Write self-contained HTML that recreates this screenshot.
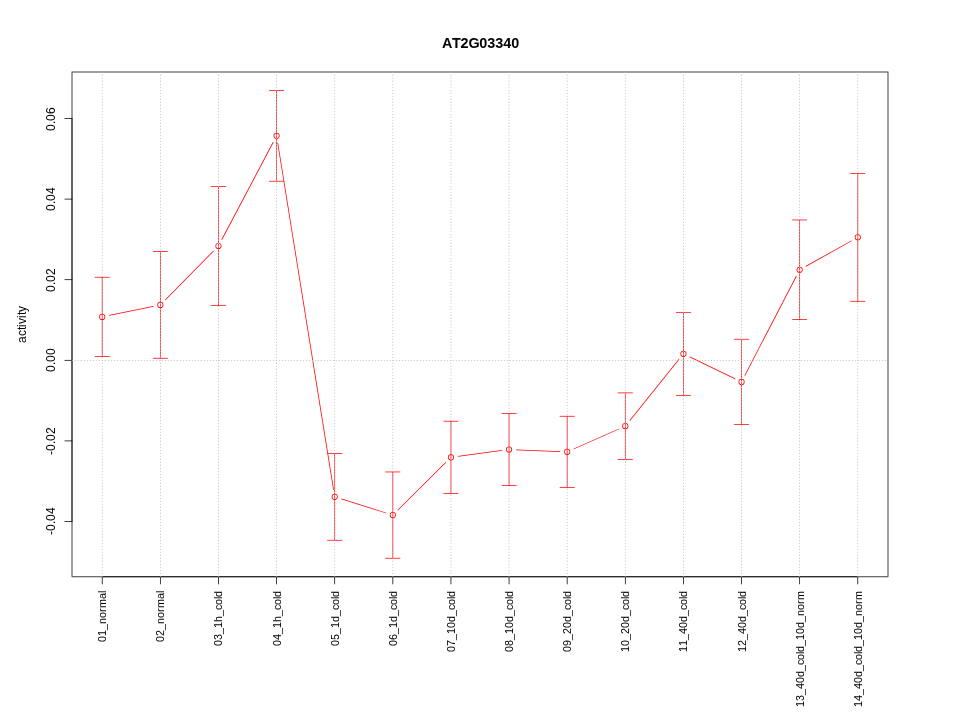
<!DOCTYPE html>
<html><head><meta charset="utf-8"><title>AT2G03340</title>
<style>
html,body{margin:0;padding:0;background:#fff;}
body{width:960px;height:720px;overflow:hidden;}
svg{display:block;will-change:transform;}
text{font-family:"Liberation Sans",sans-serif;fill:#000;}
</style></head><body>
<svg width="960" height="720" viewBox="0 0 960 720">
<defs>
<path id="vg" d="M-0.375 71.705h0.75v1.34h-0.75zM-0.375 74.705h0.75v1.34h-0.75zM-0.375 77.705h0.75v1.34h-0.75zM-0.375 80.705h0.75v1.34h-0.75zM-0.375 83.705h0.75v1.34h-0.75zM-0.375 86.705h0.75v1.34h-0.75zM-0.375 89.705h0.75v1.34h-0.75zM-0.375 92.705h0.75v1.34h-0.75zM-0.375 95.705h0.75v1.34h-0.75zM-0.375 98.705h0.75v1.34h-0.75zM-0.375 101.705h0.75v1.34h-0.75zM-0.375 104.705h0.75v1.34h-0.75zM-0.375 107.705h0.75v1.34h-0.75zM-0.375 110.705h0.75v1.34h-0.75zM-0.375 113.705h0.75v1.34h-0.75zM-0.375 116.705h0.75v1.34h-0.75zM-0.375 119.705h0.75v1.34h-0.75zM-0.375 122.705h0.75v1.34h-0.75zM-0.375 125.705h0.75v1.34h-0.75zM-0.375 128.705h0.75v1.34h-0.75zM-0.375 131.705h0.75v1.34h-0.75zM-0.375 134.705h0.75v1.34h-0.75zM-0.375 137.705h0.75v1.34h-0.75zM-0.375 140.705h0.75v1.34h-0.75zM-0.375 143.705h0.75v1.34h-0.75zM-0.375 146.705h0.75v1.34h-0.75zM-0.375 149.705h0.75v1.34h-0.75zM-0.375 152.705h0.75v1.34h-0.75zM-0.375 155.705h0.75v1.34h-0.75zM-0.375 158.705h0.75v1.34h-0.75zM-0.375 161.705h0.75v1.34h-0.75zM-0.375 164.705h0.75v1.34h-0.75zM-0.375 167.705h0.75v1.34h-0.75zM-0.375 170.705h0.75v1.34h-0.75zM-0.375 173.705h0.75v1.34h-0.75zM-0.375 176.705h0.75v1.34h-0.75zM-0.375 179.705h0.75v1.34h-0.75zM-0.375 182.705h0.75v1.34h-0.75zM-0.375 185.705h0.75v1.34h-0.75zM-0.375 188.705h0.75v1.34h-0.75zM-0.375 191.705h0.75v1.34h-0.75zM-0.375 194.705h0.75v1.34h-0.75zM-0.375 197.705h0.75v1.34h-0.75zM-0.375 200.705h0.75v1.34h-0.75zM-0.375 203.705h0.75v1.34h-0.75zM-0.375 206.705h0.75v1.34h-0.75zM-0.375 209.705h0.75v1.34h-0.75zM-0.375 212.705h0.75v1.34h-0.75zM-0.375 215.705h0.75v1.34h-0.75zM-0.375 218.705h0.75v1.34h-0.75zM-0.375 221.705h0.75v1.34h-0.75zM-0.375 224.705h0.75v1.34h-0.75zM-0.375 227.705h0.75v1.34h-0.75zM-0.375 230.705h0.75v1.34h-0.75zM-0.375 233.705h0.75v1.34h-0.75zM-0.375 236.705h0.75v1.34h-0.75zM-0.375 239.705h0.75v1.34h-0.75zM-0.375 242.705h0.75v1.34h-0.75zM-0.375 245.705h0.75v1.34h-0.75zM-0.375 248.705h0.75v1.34h-0.75zM-0.375 251.705h0.75v1.34h-0.75zM-0.375 254.705h0.75v1.34h-0.75zM-0.375 257.705h0.75v1.34h-0.75zM-0.375 260.705h0.75v1.34h-0.75zM-0.375 263.705h0.75v1.34h-0.75zM-0.375 266.705h0.75v1.34h-0.75zM-0.375 269.705h0.75v1.34h-0.75zM-0.375 272.705h0.75v1.34h-0.75zM-0.375 275.705h0.75v1.34h-0.75zM-0.375 278.705h0.75v1.34h-0.75zM-0.375 281.705h0.75v1.34h-0.75zM-0.375 284.705h0.75v1.34h-0.75zM-0.375 287.705h0.75v1.34h-0.75zM-0.375 290.705h0.75v1.34h-0.75zM-0.375 293.705h0.75v1.34h-0.75zM-0.375 296.705h0.75v1.34h-0.75zM-0.375 299.705h0.75v1.34h-0.75zM-0.375 302.705h0.75v1.34h-0.75zM-0.375 305.705h0.75v1.34h-0.75zM-0.375 308.705h0.75v1.34h-0.75zM-0.375 311.705h0.75v1.34h-0.75zM-0.375 314.705h0.75v1.34h-0.75zM-0.375 317.705h0.75v1.34h-0.75zM-0.375 320.705h0.75v1.34h-0.75zM-0.375 323.705h0.75v1.34h-0.75zM-0.375 326.705h0.75v1.34h-0.75zM-0.375 329.705h0.75v1.34h-0.75zM-0.375 332.705h0.75v1.34h-0.75zM-0.375 335.705h0.75v1.34h-0.75zM-0.375 338.705h0.75v1.34h-0.75zM-0.375 341.705h0.75v1.34h-0.75zM-0.375 344.705h0.75v1.34h-0.75zM-0.375 347.705h0.75v1.34h-0.75zM-0.375 350.705h0.75v1.34h-0.75zM-0.375 353.705h0.75v1.34h-0.75zM-0.375 356.705h0.75v1.34h-0.75zM-0.375 359.705h0.75v1.34h-0.75zM-0.375 362.705h0.75v1.34h-0.75zM-0.375 365.705h0.75v1.34h-0.75zM-0.375 368.705h0.75v1.34h-0.75zM-0.375 371.705h0.75v1.34h-0.75zM-0.375 374.705h0.75v1.34h-0.75zM-0.375 377.705h0.75v1.34h-0.75zM-0.375 380.705h0.75v1.34h-0.75zM-0.375 383.705h0.75v1.34h-0.75zM-0.375 386.705h0.75v1.34h-0.75zM-0.375 389.705h0.75v1.34h-0.75zM-0.375 392.705h0.75v1.34h-0.75zM-0.375 395.705h0.75v1.34h-0.75zM-0.375 398.705h0.75v1.34h-0.75zM-0.375 401.705h0.75v1.34h-0.75zM-0.375 404.705h0.75v1.34h-0.75zM-0.375 407.705h0.75v1.34h-0.75zM-0.375 410.705h0.75v1.34h-0.75zM-0.375 413.705h0.75v1.34h-0.75zM-0.375 416.705h0.75v1.34h-0.75zM-0.375 419.705h0.75v1.34h-0.75zM-0.375 422.705h0.75v1.34h-0.75zM-0.375 425.705h0.75v1.34h-0.75zM-0.375 428.705h0.75v1.34h-0.75zM-0.375 431.705h0.75v1.34h-0.75zM-0.375 434.705h0.75v1.34h-0.75zM-0.375 437.705h0.75v1.34h-0.75zM-0.375 440.705h0.75v1.34h-0.75zM-0.375 443.705h0.75v1.34h-0.75zM-0.375 446.705h0.75v1.34h-0.75zM-0.375 449.705h0.75v1.34h-0.75zM-0.375 452.705h0.75v1.34h-0.75zM-0.375 455.705h0.75v1.34h-0.75zM-0.375 458.705h0.75v1.34h-0.75zM-0.375 461.705h0.75v1.34h-0.75zM-0.375 464.705h0.75v1.34h-0.75zM-0.375 467.705h0.75v1.34h-0.75zM-0.375 470.705h0.75v1.34h-0.75zM-0.375 473.705h0.75v1.34h-0.75zM-0.375 476.705h0.75v1.34h-0.75zM-0.375 479.705h0.75v1.34h-0.75zM-0.375 482.705h0.75v1.34h-0.75zM-0.375 485.705h0.75v1.34h-0.75zM-0.375 488.705h0.75v1.34h-0.75zM-0.375 491.705h0.75v1.34h-0.75zM-0.375 494.705h0.75v1.34h-0.75zM-0.375 497.705h0.75v1.34h-0.75zM-0.375 500.705h0.75v1.34h-0.75zM-0.375 503.705h0.75v1.34h-0.75zM-0.375 506.705h0.75v1.34h-0.75zM-0.375 509.705h0.75v1.34h-0.75zM-0.375 512.705h0.75v1.34h-0.75zM-0.375 515.705h0.75v1.34h-0.75zM-0.375 518.705h0.75v1.34h-0.75zM-0.375 521.705h0.75v1.34h-0.75zM-0.375 524.705h0.75v1.34h-0.75zM-0.375 527.705h0.75v1.34h-0.75zM-0.375 530.705h0.75v1.34h-0.75zM-0.375 533.705h0.75v1.34h-0.75zM-0.375 536.705h0.75v1.34h-0.75zM-0.375 539.705h0.75v1.34h-0.75zM-0.375 542.705h0.75v1.34h-0.75zM-0.375 545.705h0.75v1.34h-0.75zM-0.375 548.705h0.75v1.34h-0.75zM-0.375 551.705h0.75v1.34h-0.75zM-0.375 554.705h0.75v1.34h-0.75zM-0.375 557.705h0.75v1.34h-0.75zM-0.375 560.705h0.75v1.34h-0.75zM-0.375 563.705h0.75v1.34h-0.75zM-0.375 566.705h0.75v1.34h-0.75zM-0.375 569.705h0.75v1.34h-0.75zM-0.375 572.705h0.75v1.34h-0.75zM-0.375 575.705h0.75v1.34h-0.75z"/>
<path id="hg" d="M71.705 -0.375h1.34v0.75h-1.34zM74.705 -0.375h1.34v0.75h-1.34zM77.705 -0.375h1.34v0.75h-1.34zM80.705 -0.375h1.34v0.75h-1.34zM83.705 -0.375h1.34v0.75h-1.34zM86.705 -0.375h1.34v0.75h-1.34zM89.705 -0.375h1.34v0.75h-1.34zM92.705 -0.375h1.34v0.75h-1.34zM95.705 -0.375h1.34v0.75h-1.34zM98.705 -0.375h1.34v0.75h-1.34zM101.705 -0.375h1.34v0.75h-1.34zM104.705 -0.375h1.34v0.75h-1.34zM107.705 -0.375h1.34v0.75h-1.34zM110.705 -0.375h1.34v0.75h-1.34zM113.705 -0.375h1.34v0.75h-1.34zM116.705 -0.375h1.34v0.75h-1.34zM119.705 -0.375h1.34v0.75h-1.34zM122.705 -0.375h1.34v0.75h-1.34zM125.705 -0.375h1.34v0.75h-1.34zM128.705 -0.375h1.34v0.75h-1.34zM131.705 -0.375h1.34v0.75h-1.34zM134.705 -0.375h1.34v0.75h-1.34zM137.705 -0.375h1.34v0.75h-1.34zM140.705 -0.375h1.34v0.75h-1.34zM143.705 -0.375h1.34v0.75h-1.34zM146.705 -0.375h1.34v0.75h-1.34zM149.705 -0.375h1.34v0.75h-1.34zM152.705 -0.375h1.34v0.75h-1.34zM155.705 -0.375h1.34v0.75h-1.34zM158.705 -0.375h1.34v0.75h-1.34zM161.705 -0.375h1.34v0.75h-1.34zM164.705 -0.375h1.34v0.75h-1.34zM167.705 -0.375h1.34v0.75h-1.34zM170.705 -0.375h1.34v0.75h-1.34zM173.705 -0.375h1.34v0.75h-1.34zM176.705 -0.375h1.34v0.75h-1.34zM179.705 -0.375h1.34v0.75h-1.34zM182.705 -0.375h1.34v0.75h-1.34zM185.705 -0.375h1.34v0.75h-1.34zM188.705 -0.375h1.34v0.75h-1.34zM191.705 -0.375h1.34v0.75h-1.34zM194.705 -0.375h1.34v0.75h-1.34zM197.705 -0.375h1.34v0.75h-1.34zM200.705 -0.375h1.34v0.75h-1.34zM203.705 -0.375h1.34v0.75h-1.34zM206.705 -0.375h1.34v0.75h-1.34zM209.705 -0.375h1.34v0.75h-1.34zM212.705 -0.375h1.34v0.75h-1.34zM215.705 -0.375h1.34v0.75h-1.34zM218.705 -0.375h1.34v0.75h-1.34zM221.705 -0.375h1.34v0.75h-1.34zM224.705 -0.375h1.34v0.75h-1.34zM227.705 -0.375h1.34v0.75h-1.34zM230.705 -0.375h1.34v0.75h-1.34zM233.705 -0.375h1.34v0.75h-1.34zM236.705 -0.375h1.34v0.75h-1.34zM239.705 -0.375h1.34v0.75h-1.34zM242.705 -0.375h1.34v0.75h-1.34zM245.705 -0.375h1.34v0.75h-1.34zM248.705 -0.375h1.34v0.75h-1.34zM251.705 -0.375h1.34v0.75h-1.34zM254.705 -0.375h1.34v0.75h-1.34zM257.705 -0.375h1.34v0.75h-1.34zM260.705 -0.375h1.34v0.75h-1.34zM263.705 -0.375h1.34v0.75h-1.34zM266.705 -0.375h1.34v0.75h-1.34zM269.705 -0.375h1.34v0.75h-1.34zM272.705 -0.375h1.34v0.75h-1.34zM275.705 -0.375h1.34v0.75h-1.34zM278.705 -0.375h1.34v0.75h-1.34zM281.705 -0.375h1.34v0.75h-1.34zM284.705 -0.375h1.34v0.75h-1.34zM287.705 -0.375h1.34v0.75h-1.34zM290.705 -0.375h1.34v0.75h-1.34zM293.705 -0.375h1.34v0.75h-1.34zM296.705 -0.375h1.34v0.75h-1.34zM299.705 -0.375h1.34v0.75h-1.34zM302.705 -0.375h1.34v0.75h-1.34zM305.705 -0.375h1.34v0.75h-1.34zM308.705 -0.375h1.34v0.75h-1.34zM311.705 -0.375h1.34v0.75h-1.34zM314.705 -0.375h1.34v0.75h-1.34zM317.705 -0.375h1.34v0.75h-1.34zM320.705 -0.375h1.34v0.75h-1.34zM323.705 -0.375h1.34v0.75h-1.34zM326.705 -0.375h1.34v0.75h-1.34zM329.705 -0.375h1.34v0.75h-1.34zM332.705 -0.375h1.34v0.75h-1.34zM335.705 -0.375h1.34v0.75h-1.34zM338.705 -0.375h1.34v0.75h-1.34zM341.705 -0.375h1.34v0.75h-1.34zM344.705 -0.375h1.34v0.75h-1.34zM347.705 -0.375h1.34v0.75h-1.34zM350.705 -0.375h1.34v0.75h-1.34zM353.705 -0.375h1.34v0.75h-1.34zM356.705 -0.375h1.34v0.75h-1.34zM359.705 -0.375h1.34v0.75h-1.34zM362.705 -0.375h1.34v0.75h-1.34zM365.705 -0.375h1.34v0.75h-1.34zM368.705 -0.375h1.34v0.75h-1.34zM371.705 -0.375h1.34v0.75h-1.34zM374.705 -0.375h1.34v0.75h-1.34zM377.705 -0.375h1.34v0.75h-1.34zM380.705 -0.375h1.34v0.75h-1.34zM383.705 -0.375h1.34v0.75h-1.34zM386.705 -0.375h1.34v0.75h-1.34zM389.705 -0.375h1.34v0.75h-1.34zM392.705 -0.375h1.34v0.75h-1.34zM395.705 -0.375h1.34v0.75h-1.34zM398.705 -0.375h1.34v0.75h-1.34zM401.705 -0.375h1.34v0.75h-1.34zM404.705 -0.375h1.34v0.75h-1.34zM407.705 -0.375h1.34v0.75h-1.34zM410.705 -0.375h1.34v0.75h-1.34zM413.705 -0.375h1.34v0.75h-1.34zM416.705 -0.375h1.34v0.75h-1.34zM419.705 -0.375h1.34v0.75h-1.34zM422.705 -0.375h1.34v0.75h-1.34zM425.705 -0.375h1.34v0.75h-1.34zM428.705 -0.375h1.34v0.75h-1.34zM431.705 -0.375h1.34v0.75h-1.34zM434.705 -0.375h1.34v0.75h-1.34zM437.705 -0.375h1.34v0.75h-1.34zM440.705 -0.375h1.34v0.75h-1.34zM443.705 -0.375h1.34v0.75h-1.34zM446.705 -0.375h1.34v0.75h-1.34zM449.705 -0.375h1.34v0.75h-1.34zM452.705 -0.375h1.34v0.75h-1.34zM455.705 -0.375h1.34v0.75h-1.34zM458.705 -0.375h1.34v0.75h-1.34zM461.705 -0.375h1.34v0.75h-1.34zM464.705 -0.375h1.34v0.75h-1.34zM467.705 -0.375h1.34v0.75h-1.34zM470.705 -0.375h1.34v0.75h-1.34zM473.705 -0.375h1.34v0.75h-1.34zM476.705 -0.375h1.34v0.75h-1.34zM479.705 -0.375h1.34v0.75h-1.34zM482.705 -0.375h1.34v0.75h-1.34zM485.705 -0.375h1.34v0.75h-1.34zM488.705 -0.375h1.34v0.75h-1.34zM491.705 -0.375h1.34v0.75h-1.34zM494.705 -0.375h1.34v0.75h-1.34zM497.705 -0.375h1.34v0.75h-1.34zM500.705 -0.375h1.34v0.75h-1.34zM503.705 -0.375h1.34v0.75h-1.34zM506.705 -0.375h1.34v0.75h-1.34zM509.705 -0.375h1.34v0.75h-1.34zM512.705 -0.375h1.34v0.75h-1.34zM515.705 -0.375h1.34v0.75h-1.34zM518.705 -0.375h1.34v0.75h-1.34zM521.705 -0.375h1.34v0.75h-1.34zM524.705 -0.375h1.34v0.75h-1.34zM527.705 -0.375h1.34v0.75h-1.34zM530.705 -0.375h1.34v0.75h-1.34zM533.705 -0.375h1.34v0.75h-1.34zM536.705 -0.375h1.34v0.75h-1.34zM539.705 -0.375h1.34v0.75h-1.34zM542.705 -0.375h1.34v0.75h-1.34zM545.705 -0.375h1.34v0.75h-1.34zM548.705 -0.375h1.34v0.75h-1.34zM551.705 -0.375h1.34v0.75h-1.34zM554.705 -0.375h1.34v0.75h-1.34zM557.705 -0.375h1.34v0.75h-1.34zM560.705 -0.375h1.34v0.75h-1.34zM563.705 -0.375h1.34v0.75h-1.34zM566.705 -0.375h1.34v0.75h-1.34zM569.705 -0.375h1.34v0.75h-1.34zM572.705 -0.375h1.34v0.75h-1.34zM575.705 -0.375h1.34v0.75h-1.34zM578.705 -0.375h1.34v0.75h-1.34zM581.705 -0.375h1.34v0.75h-1.34zM584.705 -0.375h1.34v0.75h-1.34zM587.705 -0.375h1.34v0.75h-1.34zM590.705 -0.375h1.34v0.75h-1.34zM593.705 -0.375h1.34v0.75h-1.34zM596.705 -0.375h1.34v0.75h-1.34zM599.705 -0.375h1.34v0.75h-1.34zM602.705 -0.375h1.34v0.75h-1.34zM605.705 -0.375h1.34v0.75h-1.34zM608.705 -0.375h1.34v0.75h-1.34zM611.705 -0.375h1.34v0.75h-1.34zM614.705 -0.375h1.34v0.75h-1.34zM617.705 -0.375h1.34v0.75h-1.34zM620.705 -0.375h1.34v0.75h-1.34zM623.705 -0.375h1.34v0.75h-1.34zM626.705 -0.375h1.34v0.75h-1.34zM629.705 -0.375h1.34v0.75h-1.34zM632.705 -0.375h1.34v0.75h-1.34zM635.705 -0.375h1.34v0.75h-1.34zM638.705 -0.375h1.34v0.75h-1.34zM641.705 -0.375h1.34v0.75h-1.34zM644.705 -0.375h1.34v0.75h-1.34zM647.705 -0.375h1.34v0.75h-1.34zM650.705 -0.375h1.34v0.75h-1.34zM653.705 -0.375h1.34v0.75h-1.34zM656.705 -0.375h1.34v0.75h-1.34zM659.705 -0.375h1.34v0.75h-1.34zM662.705 -0.375h1.34v0.75h-1.34zM665.705 -0.375h1.34v0.75h-1.34zM668.705 -0.375h1.34v0.75h-1.34zM671.705 -0.375h1.34v0.75h-1.34zM674.705 -0.375h1.34v0.75h-1.34zM677.705 -0.375h1.34v0.75h-1.34zM680.705 -0.375h1.34v0.75h-1.34zM683.705 -0.375h1.34v0.75h-1.34zM686.705 -0.375h1.34v0.75h-1.34zM689.705 -0.375h1.34v0.75h-1.34zM692.705 -0.375h1.34v0.75h-1.34zM695.705 -0.375h1.34v0.75h-1.34zM698.705 -0.375h1.34v0.75h-1.34zM701.705 -0.375h1.34v0.75h-1.34zM704.705 -0.375h1.34v0.75h-1.34zM707.705 -0.375h1.34v0.75h-1.34zM710.705 -0.375h1.34v0.75h-1.34zM713.705 -0.375h1.34v0.75h-1.34zM716.705 -0.375h1.34v0.75h-1.34zM719.705 -0.375h1.34v0.75h-1.34zM722.705 -0.375h1.34v0.75h-1.34zM725.705 -0.375h1.34v0.75h-1.34zM728.705 -0.375h1.34v0.75h-1.34zM731.705 -0.375h1.34v0.75h-1.34zM734.705 -0.375h1.34v0.75h-1.34zM737.705 -0.375h1.34v0.75h-1.34zM740.705 -0.375h1.34v0.75h-1.34zM743.705 -0.375h1.34v0.75h-1.34zM746.705 -0.375h1.34v0.75h-1.34zM749.705 -0.375h1.34v0.75h-1.34zM752.705 -0.375h1.34v0.75h-1.34zM755.705 -0.375h1.34v0.75h-1.34zM758.705 -0.375h1.34v0.75h-1.34zM761.705 -0.375h1.34v0.75h-1.34zM764.705 -0.375h1.34v0.75h-1.34zM767.705 -0.375h1.34v0.75h-1.34zM770.705 -0.375h1.34v0.75h-1.34zM773.705 -0.375h1.34v0.75h-1.34zM776.705 -0.375h1.34v0.75h-1.34zM779.705 -0.375h1.34v0.75h-1.34zM782.705 -0.375h1.34v0.75h-1.34zM785.705 -0.375h1.34v0.75h-1.34zM788.705 -0.375h1.34v0.75h-1.34zM791.705 -0.375h1.34v0.75h-1.34zM794.705 -0.375h1.34v0.75h-1.34zM797.705 -0.375h1.34v0.75h-1.34zM800.705 -0.375h1.34v0.75h-1.34zM803.705 -0.375h1.34v0.75h-1.34zM806.705 -0.375h1.34v0.75h-1.34zM809.705 -0.375h1.34v0.75h-1.34zM812.705 -0.375h1.34v0.75h-1.34zM815.705 -0.375h1.34v0.75h-1.34zM818.705 -0.375h1.34v0.75h-1.34zM821.705 -0.375h1.34v0.75h-1.34zM824.705 -0.375h1.34v0.75h-1.34zM827.705 -0.375h1.34v0.75h-1.34zM830.705 -0.375h1.34v0.75h-1.34zM833.705 -0.375h1.34v0.75h-1.34zM836.705 -0.375h1.34v0.75h-1.34zM839.705 -0.375h1.34v0.75h-1.34zM842.705 -0.375h1.34v0.75h-1.34zM845.705 -0.375h1.34v0.75h-1.34zM848.705 -0.375h1.34v0.75h-1.34zM851.705 -0.375h1.34v0.75h-1.34zM854.705 -0.375h1.34v0.75h-1.34zM857.705 -0.375h1.34v0.75h-1.34zM860.705 -0.375h1.34v0.75h-1.34zM863.705 -0.375h1.34v0.75h-1.34zM866.705 -0.375h1.34v0.75h-1.34zM869.705 -0.375h1.34v0.75h-1.34zM872.705 -0.375h1.34v0.75h-1.34zM875.705 -0.375h1.34v0.75h-1.34zM878.705 -0.375h1.34v0.75h-1.34zM881.705 -0.375h1.34v0.75h-1.34zM884.705 -0.375h1.34v0.75h-1.34z"/>
</defs>
<rect x="0" y="0" width="960" height="720" fill="#ffffff"/>
<g fill="#ff0000" stroke="none">
<path d="M109.158 315.851L153.557 306.684L153.406 305.949L109.007 315.116Z"/>
<path d="M165.527 300.175L213.811 251.202L213.276 250.675L164.993 299.648Z"/>
<path d="M222.063 239.93L273.643 142.22L272.979 141.87L221.4 239.58Z"/>
<path d="M277.324 142.826L333.217 489.994L333.958 489.874L278.065 142.706Z"/>
<path d="M341.272 499.306L386.025 513.359L386.25 512.644L341.496 498.591Z"/>
<path d="M398.052 510.426L446.238 462.506L445.709 461.974L397.523 509.894Z"/>
<path d="M457.933 456.74L502.167 450.803L502.067 450.06L457.833 455.997Z"/>
<path d="M516.045 450.152L560.165 451.898L560.195 451.148L516.074 449.402Z"/>
<path d="M573.74 449.315L619.042 429.321L618.739 428.635L573.437 448.629Z"/>
<path d="M629.98 420.925L679.322 359.545L678.738 359.075L629.396 420.455Z"/>
<path d="M689.565 357.232L735.067 379.193L735.393 378.518L689.89 356.557Z"/>
<path d="M745.095 375.853L796.768 276.142L796.102 275.797L744.429 375.508Z"/>
<path d="M805.959 266.667L851.842 241.088L851.477 240.433L805.594 266.012Z"/>
<path fill-rule="evenodd" d="M99.147 316.9A3.075 3.075 0 1 0 105.297 316.9A3.075 3.075 0 1 0 99.147 316.9ZM99.897 316.9A2.325 2.325 0 1 1 104.547 316.9A2.325 2.325 0 1 1 99.897 316.9Z"/>
<path fill-rule="evenodd" d="M157.267 304.9A3.075 3.075 0 1 0 163.417 304.9A3.075 3.075 0 1 0 157.267 304.9ZM158.017 304.9A2.325 2.325 0 1 1 162.667 304.9A2.325 2.325 0 1 1 158.017 304.9Z"/>
<path fill-rule="evenodd" d="M215.387 245.95A3.075 3.075 0 1 0 221.537 245.95A3.075 3.075 0 1 0 215.387 245.95ZM216.137 245.95A2.325 2.325 0 1 1 220.787 245.95A2.325 2.325 0 1 1 216.137 245.95Z"/>
<path fill-rule="evenodd" d="M273.506 135.85A3.075 3.075 0 1 0 279.656 135.85A3.075 3.075 0 1 0 273.506 135.85ZM274.256 135.85A2.325 2.325 0 1 1 278.906 135.85A2.325 2.325 0 1 1 274.256 135.85Z"/>
<path fill-rule="evenodd" d="M331.626 496.85A3.075 3.075 0 1 0 337.776 496.85A3.075 3.075 0 1 0 331.626 496.85ZM332.376 496.85A2.325 2.325 0 1 1 337.026 496.85A2.325 2.325 0 1 1 332.376 496.85Z"/>
<path fill-rule="evenodd" d="M389.746 515.1A3.075 3.075 0 1 0 395.896 515.1A3.075 3.075 0 1 0 389.746 515.1ZM390.496 515.1A2.325 2.325 0 1 1 395.146 515.1A2.325 2.325 0 1 1 390.496 515.1Z"/>
<path fill-rule="evenodd" d="M447.865 457.3A3.075 3.075 0 1 0 454.015 457.3A3.075 3.075 0 1 0 447.865 457.3ZM448.615 457.3A2.325 2.325 0 1 1 453.265 457.3A2.325 2.325 0 1 1 448.615 457.3Z"/>
<path fill-rule="evenodd" d="M505.985 449.5A3.075 3.075 0 1 0 512.135 449.5A3.075 3.075 0 1 0 505.985 449.5ZM506.735 449.5A2.325 2.325 0 1 1 511.385 449.5A2.325 2.325 0 1 1 506.735 449.5Z"/>
<path fill-rule="evenodd" d="M564.104 451.8A3.075 3.075 0 1 0 570.254 451.8A3.075 3.075 0 1 0 564.104 451.8ZM564.854 451.8A2.325 2.325 0 1 1 569.504 451.8A2.325 2.325 0 1 1 564.854 451.8Z"/>
<path fill-rule="evenodd" d="M622.224 426.15A3.075 3.075 0 1 0 628.374 426.15A3.075 3.075 0 1 0 622.224 426.15ZM622.974 426.15A2.325 2.325 0 1 1 627.624 426.15A2.325 2.325 0 1 1 622.974 426.15Z"/>
<path fill-rule="evenodd" d="M680.344 353.85A3.075 3.075 0 1 0 686.494 353.85A3.075 3.075 0 1 0 680.344 353.85ZM681.094 353.85A2.325 2.325 0 1 1 685.744 353.85A2.325 2.325 0 1 1 681.094 353.85Z"/>
<path fill-rule="evenodd" d="M738.463 381.9A3.075 3.075 0 1 0 744.613 381.9A3.075 3.075 0 1 0 738.463 381.9ZM739.213 381.9A2.325 2.325 0 1 1 743.863 381.9A2.325 2.325 0 1 1 739.213 381.9Z"/>
<path fill-rule="evenodd" d="M796.583 269.75A3.075 3.075 0 1 0 802.733 269.75A3.075 3.075 0 1 0 796.583 269.75ZM797.333 269.75A2.325 2.325 0 1 1 801.983 269.75A2.325 2.325 0 1 1 797.333 269.75Z"/>
<path fill-rule="evenodd" d="M854.703 237.35A3.075 3.075 0 1 0 860.853 237.35A3.075 3.075 0 1 0 854.703 237.35ZM855.453 237.35A2.325 2.325 0 1 1 860.103 237.35A2.325 2.325 0 1 1 855.453 237.35Z"/>
<rect x="101.847" y="276.955" width="0.75" height="79.89"/>
<rect x="94.727" y="276.875" width="14.99" height="0.75"/>
<rect x="94.727" y="356.175" width="14.99" height="0.75"/>
<rect x="159.967" y="251.255" width="0.75" height="107.29"/>
<rect x="152.847" y="251.175" width="14.99" height="0.75"/>
<rect x="152.847" y="357.875" width="14.99" height="0.75"/>
<rect x="218.087" y="186.255" width="0.75" height="119.39"/>
<rect x="210.967" y="186.175" width="14.99" height="0.75"/>
<rect x="210.967" y="304.975" width="14.99" height="0.75"/>
<rect x="276.206" y="90.205" width="0.75" height="91.29"/>
<rect x="269.086" y="90.125" width="14.99" height="0.75"/>
<rect x="269.086" y="180.825" width="14.99" height="0.75"/>
<rect x="334.326" y="453.155" width="0.75" height="87.39"/>
<rect x="327.206" y="453.075" width="14.99" height="0.75"/>
<rect x="327.206" y="539.875" width="14.99" height="0.75"/>
<rect x="392.446" y="471.655" width="0.75" height="86.89"/>
<rect x="385.326" y="471.575" width="14.99" height="0.75"/>
<rect x="385.326" y="557.875" width="14.99" height="0.75"/>
<rect x="450.565" y="420.905" width="0.75" height="72.79"/>
<rect x="443.445" y="420.825" width="14.99" height="0.75"/>
<rect x="443.445" y="493.025" width="14.99" height="0.75"/>
<rect x="508.685" y="413.205" width="0.75" height="72.59"/>
<rect x="501.565" y="413.125" width="14.99" height="0.75"/>
<rect x="501.565" y="485.125" width="14.99" height="0.75"/>
<rect x="566.804" y="415.955" width="0.75" height="71.69"/>
<rect x="559.684" y="415.875" width="14.99" height="0.75"/>
<rect x="559.684" y="486.975" width="14.99" height="0.75"/>
<rect x="624.924" y="392.605" width="0.75" height="67.09"/>
<rect x="617.804" y="392.525" width="14.99" height="0.75"/>
<rect x="617.804" y="459.025" width="14.99" height="0.75"/>
<rect x="683.044" y="312.055" width="0.75" height="83.59"/>
<rect x="675.924" y="311.975" width="14.99" height="0.75"/>
<rect x="675.924" y="394.975" width="14.99" height="0.75"/>
<rect x="741.163" y="338.955" width="0.75" height="85.89"/>
<rect x="734.043" y="338.875" width="14.99" height="0.75"/>
<rect x="734.043" y="424.175" width="14.99" height="0.75"/>
<rect x="799.283" y="219.655" width="0.75" height="100.19"/>
<rect x="792.163" y="219.575" width="14.99" height="0.75"/>
<rect x="792.163" y="319.175" width="14.99" height="0.75"/>
<rect x="857.403" y="173.105" width="0.75" height="128.49"/>
<rect x="850.283" y="173.025" width="14.99" height="0.75"/>
<rect x="850.283" y="300.925" width="14.99" height="0.75"/>
</g>
<g fill="#000" stroke="none">
<rect x="71.625" y="71.625" width="816.75" height="0.75"/>
<rect x="71.625" y="576.425" width="816.75" height="0.75"/>
<rect x="71.625" y="72.375" width="0.75" height="504.05"/>
<rect x="887.625" y="72.375" width="0.75" height="504.05"/>
<rect x="101.927" y="576.425" width="756.146" height="0.75"/>
<rect x="101.847" y="576.505" width="0.75" height="7.79"/>
<rect x="159.967" y="576.505" width="0.75" height="7.79"/>
<rect x="218.087" y="576.505" width="0.75" height="7.79"/>
<rect x="276.206" y="576.505" width="0.75" height="7.79"/>
<rect x="334.326" y="576.505" width="0.75" height="7.79"/>
<rect x="392.446" y="576.505" width="0.75" height="7.79"/>
<rect x="450.565" y="576.505" width="0.75" height="7.79"/>
<rect x="508.685" y="576.505" width="0.75" height="7.79"/>
<rect x="566.804" y="576.505" width="0.75" height="7.79"/>
<rect x="624.924" y="576.505" width="0.75" height="7.79"/>
<rect x="683.044" y="576.505" width="0.75" height="7.79"/>
<rect x="741.163" y="576.505" width="0.75" height="7.79"/>
<rect x="799.283" y="576.505" width="0.75" height="7.79"/>
<rect x="857.403" y="576.505" width="0.75" height="7.79"/>
<rect x="71.625" y="118.205" width="0.75" height="403.59"/>
<rect x="64.505" y="521.125" width="7.79" height="0.75"/>
<rect x="64.505" y="440.525" width="7.79" height="0.75"/>
<rect x="64.505" y="359.925" width="7.79" height="0.75"/>
<rect x="64.505" y="279.325" width="7.79" height="0.75"/>
<rect x="64.505" y="198.725" width="7.79" height="0.75"/>
<rect x="64.505" y="118.125" width="7.79" height="0.75"/>
</g>
<g fill="#bebebe" stroke="none">
<use href="#vg" x="102.222" y="0"/>
<use href="#vg" x="160.342" y="0"/>
<use href="#vg" x="218.462" y="0"/>
<use href="#vg" x="276.581" y="0"/>
<use href="#vg" x="334.701" y="0"/>
<use href="#vg" x="392.821" y="0"/>
<use href="#vg" x="450.94" y="0"/>
<use href="#vg" x="509.06" y="0"/>
<use href="#vg" x="567.179" y="0"/>
<use href="#vg" x="625.299" y="0"/>
<use href="#vg" x="683.419" y="0"/>
<use href="#vg" x="741.538" y="0"/>
<use href="#vg" x="799.658" y="0"/>
<use href="#vg" x="857.778" y="0"/>
<use href="#hg" x="0" y="360.3"/>
</g>
<text x="442 452 460.6 468.6 479.3 487.3 495.3 503.3 511.3" y="47.75" font-size="14.4" font-weight="bold">AT2G03340</text>
<text transform="translate(26 343) rotate(-90)" x="0 7 13 16 19 25 28 31" y="0" font-size="12">activity</text>
<text transform="translate(55 535) rotate(-90)" x="0 4 11 14 21" y="0" font-size="12">-0.04</text>
<text transform="translate(55 455) rotate(-90)" x="0 4 11 14 21" y="0" font-size="12">-0.02</text>
<text transform="translate(55 372) rotate(-90)" x="0 7 10 17" y="0" font-size="12">0.00</text>
<text transform="translate(55 292) rotate(-90)" x="0 7 10 17" y="0" font-size="12">0.02</text>
<text transform="translate(55 211) rotate(-90)" x="0 7 10 17" y="0" font-size="12">0.04</text>
<text transform="translate(55 131) rotate(-90)" x="0 7 10 17" y="0" font-size="12">0.06</text>
<text transform="translate(106 642) rotate(-90)" x="0 6 12 18 24 30 34 43 49" y="0" font-size="10.8">01_normal</text>
<text transform="translate(164 642) rotate(-90)" x="0 6 12 18 24 30 34 43 49" y="0" font-size="10.8">02_normal</text>
<text transform="translate(222 646) rotate(-90)" x="0 6 12 18 24 30 36 41 47 49" y="0" font-size="10.8">03_1h_cold</text>
<text transform="translate(281 646) rotate(-90)" x="0 6 12 18 24 30 36 41 47 49" y="0" font-size="10.8">04_1h_cold</text>
<text transform="translate(339 646) rotate(-90)" x="0 6 12 18 24 30 36 41 47 49" y="0" font-size="10.8">05_1d_cold</text>
<text transform="translate(397 646) rotate(-90)" x="0 6 12 18 24 30 36 41 47 49" y="0" font-size="10.8">06_1d_cold</text>
<text transform="translate(455 652) rotate(-90)" x="0 6 12 18 24 30 36 42 47 53 55" y="0" font-size="10.8">07_10d_cold</text>
<text transform="translate(513 652) rotate(-90)" x="0 6 12 18 24 30 36 42 47 53 55" y="0" font-size="10.8">08_10d_cold</text>
<text transform="translate(571 652) rotate(-90)" x="0 6 12 18 24 30 36 42 47 53 55" y="0" font-size="10.8">09_20d_cold</text>
<text transform="translate(629 652) rotate(-90)" x="0 6 12 18 24 30 36 42 47 53 55" y="0" font-size="10.8">10_20d_cold</text>
<text transform="translate(687 652) rotate(-90)" x="0 6 12 18 24 30 36 42 47 53 55" y="0" font-size="10.8">11_40d_cold</text>
<text transform="translate(746 652) rotate(-90)" x="0 6 12 18 24 30 36 42 47 53 55" y="0" font-size="10.8">12_40d_cold</text>
<text transform="translate(804 707) rotate(-90)" x="0 6 12 18 24 30 36 42 47 53 55 61 67 73 79 85 91 97 103 107" y="0" font-size="10.8">13_40d_cold_10d_norm</text>
<text transform="translate(862 707) rotate(-90)" x="0 6 12 18 24 30 36 42 47 53 55 61 67 73 79 85 91 97 103 107" y="0" font-size="10.8">14_40d_cold_10d_norm</text>
</svg>
</body></html>
